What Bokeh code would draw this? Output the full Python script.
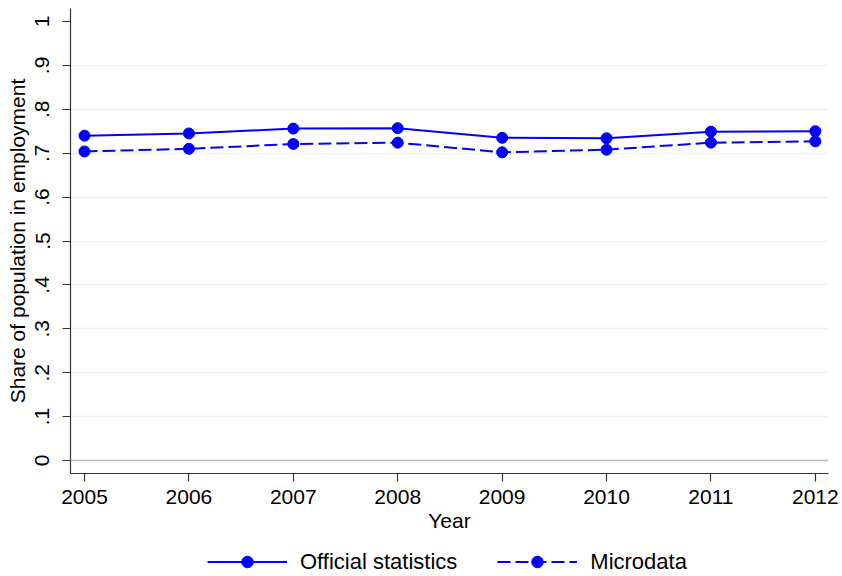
from bokeh.plotting import figure
from bokeh.models import Range1d, FixedTicker, Span, Legend, LegendItem
from bokeh.layouts import column
from bokeh.embed import file_html
from bokeh.resources import INLINE

years = [2005, 2006, 2007, 2008, 2009, 2010, 2011, 2012]
official = [0.740, 0.745, 0.756, 0.757, 0.735, 0.734, 0.749, 0.750]
microdata = [0.704, 0.710, 0.721, 0.724, 0.702, 0.708, 0.724, 0.727]

y_ticks = [0, 0.1, 0.2, 0.3, 0.4, 0.5, 0.6, 0.7, 0.8, 0.9, 1.0]
y_tick_labels = ["0", ".1", ".2", ".3", ".4", ".5", ".6", ".7", ".8", ".9", "1"]
grid_ticks = [0.1, 0.2, 0.3, 0.4, 0.5, 0.6, 0.7, 0.8, 0.9]
series_labels = ["Official statistics", "Microdata"]

FONT = "Liberation Sans"
FS = "21px"
BLUE = "#0000ff"
DASH = "13 5"

p = figure(width=842, height=540, output_backend="svg", toolbar_location=None,
           x_range=Range1d(2004.866, 2012.126), y_range=Range1d(-0.0296, 1.0296),
           min_border_left=70, min_border_right=14, min_border_top=8, min_border_bottom=67)
p.outline_line_color = None
p.background_fill_color = "white"
p.border_fill_color = "white"

# axes
p.xaxis.ticker = FixedTicker(ticks=years)
p.yaxis.ticker = FixedTicker(ticks=y_ticks)
p.yaxis.major_label_overrides = {t: l for t, l in zip(y_ticks, y_tick_labels)}
p.yaxis.major_label_orientation = "vertical"
for ax in (p.xaxis, p.yaxis):
    ax.axis_line_color = "#333333"
    ax.axis_line_width = 1.2
    ax.major_tick_line_color = "#333333"
    ax.major_tick_line_width = 1.2
    ax.major_tick_out = 8
    ax.major_tick_in = 0
    ax.minor_tick_out = 0
    ax.minor_tick_in = 0
    ax.major_label_text_font = FONT
    ax.major_label_text_font_size = FS
    ax.major_label_text_color = "black"
    ax.axis_label_text_font = FONT
    ax.axis_label_text_font_size = FS
    ax.axis_label_text_font_style = "normal"
    ax.axis_label_text_color = "black"
p.xaxis.axis_label = "Year"
p.yaxis.axis_label = "Share of population in employment"
p.xaxis.major_label_standoff = 8
p.xaxis.axis_label_standoff = 2
p.yaxis.major_label_standoff = 13
p.yaxis.axis_label_standoff = 4

# grid
p.xgrid.grid_line_color = None
p.ygrid.ticker = FixedTicker(ticks=grid_ticks)
p.ygrid.grid_line_color = "#eaf2f3"
p.ygrid.grid_line_width = 1.5
p.add_layout(Span(location=0, dimension="width", line_color="#b8b8b8", line_width=1.5))

# series
p.line(years, official, line_color=BLUE, line_width=2)
p.scatter(years, official, size=11, marker="circle", fill_color=BLUE, line_color=BLUE)
p.line(years, microdata, line_color=BLUE, line_width=2, line_dash=DASH)
p.scatter(years, microdata, size=11, marker="circle", fill_color=BLUE, line_color=BLUE)

# legend strip (separate figure below the plot; frames are aligned by the column)
lg = figure(width=842, height=36, output_backend="svg", toolbar_location=None,
            x_range=Range1d(0, 1), y_range=Range1d(0, 1),
            min_border_left=0, min_border_right=0, min_border_top=0, min_border_bottom=0)
lg.axis.visible = False
lg.grid.visible = False
lg.outline_line_color = None
lg.border_fill_color = "white"
off_x = [-5, -4]
off_y = [-5, -5]
la = lg.line(off_x, off_y, line_color=BLUE, line_width=2)
sa = lg.scatter(off_x, off_y, size=11, marker="circle", fill_color=BLUE, line_color=BLUE)
lb = lg.line(off_x, off_y, line_color=BLUE, line_width=2, line_dash=DASH)
sb = lg.scatter(off_x, off_y, size=11, marker="circle", fill_color=BLUE, line_color=BLUE)

legend = Legend(items=[LegendItem(label=series_labels[0], renderers=[la, sa]),
                       LegendItem(label=series_labels[1], renderers=[lb, sb])],
                orientation="horizontal", location=(137, 0),
                glyph_width=80, glyph_height=29, label_standoff=13, spacing=40,
                padding=0, margin=0, border_line_color=None, background_fill_alpha=0,
                label_text_font=FONT, label_text_font_size="22px", label_text_color="black")
lg.add_layout(legend, "center")

layout = column(p, lg, spacing=0)
open("out.html", "w").write(file_html(layout, INLINE))
